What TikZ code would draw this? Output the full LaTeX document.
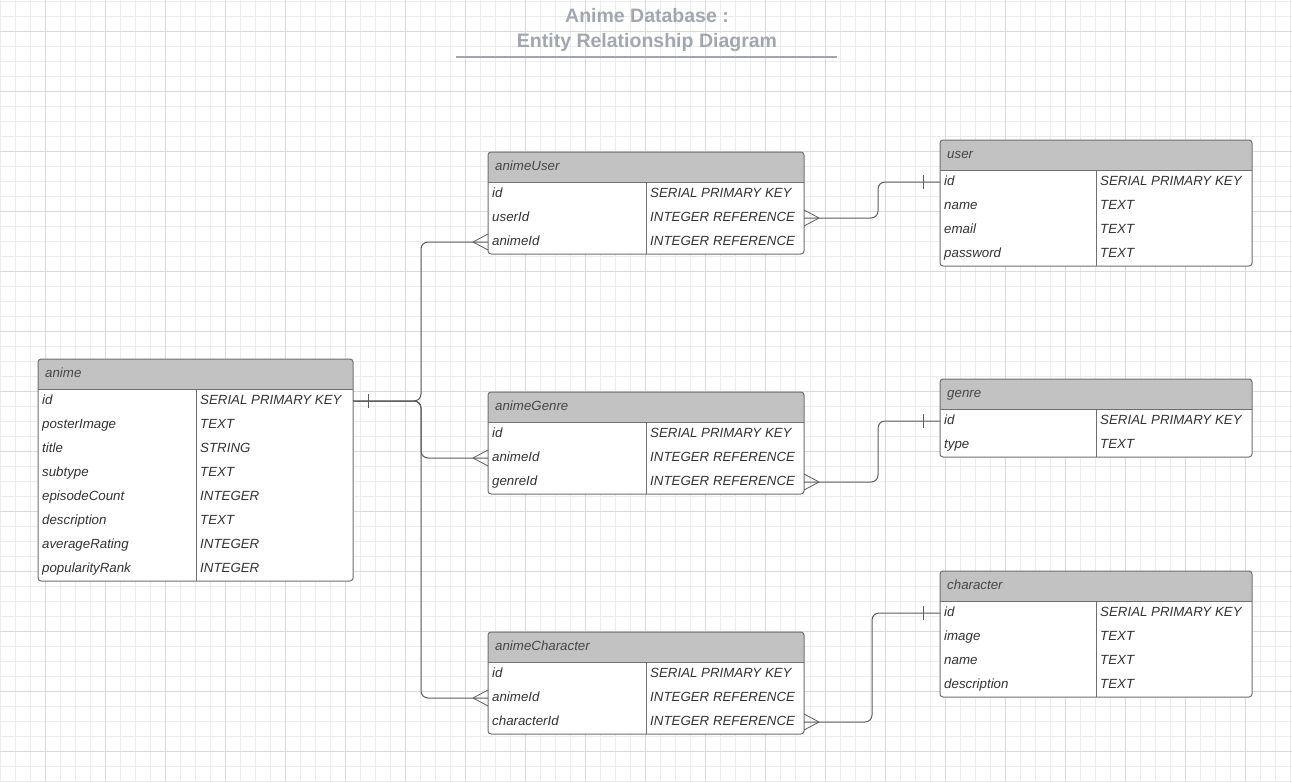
\documentclass[tikz,border=0pt]{standalone}
\usepackage{fontspec}
\setmainfont{Liberation Sans}
\usetikzlibrary{calc}
\definecolor{gridminor}{RGB}{236,236,236}
\definecolor{gridmajor}{RGB}{218,218,218}
\definecolor{hdrgray}{RGB}{194,194,194}
\definecolor{bordergray}{RGB}{112,112,112}
\definecolor{linegray}{RGB}{92,92,92}
\definecolor{txtgray}{RGB}{51,51,51}
\definecolor{titlegray}{RGB}{161,166,176}
\tikzset{
  celltext/.style={font=\fontsize{13.3}{16}\selectfont\itshape, text=txtgray, inner sep=0pt, anchor=base west},
  hdrtext/.style={font=\fontsize{13.3}{16}\selectfont\itshape, text=txtgray!90, inner sep=0pt, anchor=base west},
  framebox/.style={draw=bordergray, line width=1pt, rounded corners=3pt},
  inner/.style={draw=bordergray, line width=1pt},
  conn/.style={draw=linegray, line width=1pt, rounded corners=7pt},
  foot/.style={draw=linegray, line width=0.8pt},
  titletext/.style={font=\fontsize{19.5}{24}\selectfont\bfseries, text=titlegray, inner sep=0pt},
}
% #1 name, #2 left x, #3 top y, #4 width, #5 divider offset, #6 rows, #7 title, #8 field/type list
\newcommand\ertable[8]{%
  \pgfmathsetmacro\erbot{#3+30+24*#6}
  \begin{scope}
    \clip[rounded corners=3pt] (#2,#3) rectangle (#2+#4,\erbot);
    \fill[white] (#2,#3) rectangle (#2+#4,\erbot);
    \fill[hdrgray] (#2,#3) rectangle (#2+#4,#3+30);
  \end{scope}
  \draw[inner] (#2,#3+30) -- (#2+#4,#3+30);
  \draw[inner] (#2+#5,#3+30) -- (#2+#5,\erbot);
  \draw[framebox] (#2,#3) rectangle (#2+#4,\erbot);
  \node[hdrtext] (#1) at (#2+7,#3+18) {#7};
  \foreach \fa/\fb [count=\i] in {#8} {
    \pgfmathsetmacro\ery{#3+30+24*\i-12}
    \node[celltext] (#1-\fa) at (#2+4,\ery+3) {\fa};
    \node[celltext] (#1-\fa-type) at (#2+#5+4,\ery+3) {\fb};
    \coordinate (#1-\fa-L) at (#2,\ery);
    \coordinate (#1-\fa-R) at (#2+#4,\ery);
  }
}
\newcommand\crowleft[1]{\draw[foot] ($(#1)+(-15,0)$) -- ($(#1)+(0,-8)$) ($(#1)+(-15,0)$) -- ($(#1)+(0,8)$);}
\newcommand\crowright[1]{\draw[foot] ($(#1)+(15,0)$) -- ($(#1)+(0,-8)$) ($(#1)+(15,0)$) -- ($(#1)+(0,8)$);}
\newcommand\onebar[2]{\draw[foot] ($(#1)+(#2,-7)$) -- ($(#1)+(#2,7)$);}
\begin{document}
\begin{tikzpicture}[x=1pt,y=-1pt]
\useasboundingbox (0,0) rectangle (1292,782);
\fill[white] (0,0) rectangle (1292,782);
% grid
\foreach \gx in {0,15,...,1290} \draw[gridminor, line width=1pt] (\gx,0) -- (\gx,782);
\foreach \gy in {1,16,...,781} \draw[gridminor, line width=1pt] (0,\gy) -- (1292,\gy);
\foreach \gx in {45,105,...,1290} \draw[gridmajor, line width=1pt] (\gx,0) -- (\gx,782);
\foreach \gy in {31,91,...,781} \draw[gridmajor, line width=1pt] (0,\gy) -- (1292,\gy);
% title
\node[titletext] (t1) at (647,16) {Anime Database :};
\node[titletext] (t2) at (647,42) {Entity Relationship Diagram};
\coordinate (ulA) at (456,57);
\coordinate (ulB) at (837,57);
\draw[titlegray, line width=1.2pt] (ulA) -- (ulB);
% tables
\ertable{anime}{38}{359}{315}{158}{8}{anime}{id/SERIAL PRIMARY KEY,posterImage/TEXT,title/STRING,subtype/TEXT,episodeCount/INTEGER,description/TEXT,averageRating/INTEGER,popularityRank/INTEGER}
\ertable{animeUser}{488}{152}{316}{158}{3}{animeUser}{id/SERIAL PRIMARY KEY,userId/INTEGER REFERENCE,animeId/INTEGER REFERENCE}
\ertable{user}{940}{140}{312}{156}{4}{user}{id/SERIAL PRIMARY KEY,name/TEXT,email/TEXT,password/TEXT}
\ertable{animeGenre}{488}{392}{316}{158}{3}{animeGenre}{id/SERIAL PRIMARY KEY,animeId/INTEGER REFERENCE,genreId/INTEGER REFERENCE}
\ertable{genre}{940}{379}{312}{156}{2}{genre}{id/SERIAL PRIMARY KEY,type/TEXT}
\ertable{animeCharacter}{488}{632}{316}{158}{3}{animeCharacter}{id/SERIAL PRIMARY KEY,animeId/INTEGER REFERENCE,characterId/INTEGER REFERENCE}
\ertable{character}{940}{571}{312}{156}{4}{character}{id/SERIAL PRIMARY KEY,image/TEXT,name/TEXT,description/TEXT}
% connectors
\coordinate (jA) at (421,0);
\coordinate (jU) at (878,0);
\coordinate (jG) at (878,0);
\coordinate (jC) at (872,0);
\draw[conn] (anime-id-R) -- (anime-id-R -| jA) |- (animeUser-animeId-L);
\draw[conn] (anime-id-R) -- (anime-id-R -| jA) |- (animeGenre-animeId-L);
\draw[conn] (anime-id-R) -- (anime-id-R -| jA) |- (animeCharacter-animeId-L);
\draw[conn] (animeUser-userId-R) -- (animeUser-userId-R -| jU) |- (user-id-L);
\draw[conn] (animeGenre-genreId-R) -- (animeGenre-genreId-R -| jG) |- (genre-id-L);
\draw[conn] (animeCharacter-characterId-R) -- (animeCharacter-characterId-R -| jC) |- (character-id-L);
% ends
\onebar{anime-id-R}{15}
\crowleft{animeUser-animeId-L}
\crowleft{animeGenre-animeId-L}
\crowleft{animeCharacter-animeId-L}
\crowright{animeUser-userId-R}
\crowright{animeGenre-genreId-R}
\crowright{animeCharacter-characterId-R}
\onebar{user-id-L}{-17}
\onebar{genre-id-L}{-17}
\onebar{character-id-L}{-17}
\end{tikzpicture}
\end{document}
